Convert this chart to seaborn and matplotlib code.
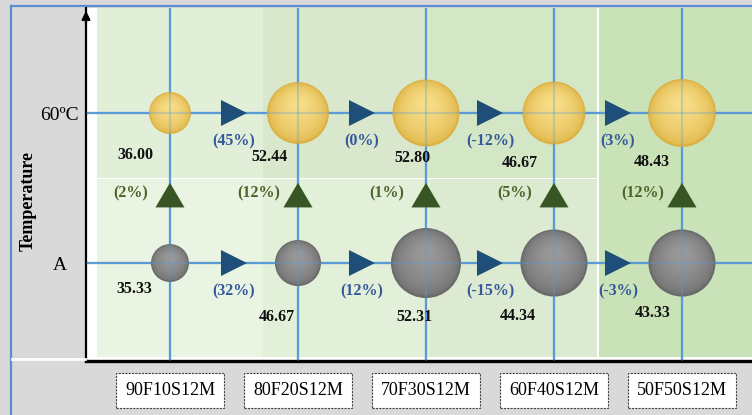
import numpy as np
import pandas as pd
import matplotlib
matplotlib.use("Agg")
import matplotlib.pyplot as plt
from matplotlib.lines import Line2D
from matplotlib.patches import Rectangle
from matplotlib.colors import to_rgb
import seaborn as sns

# ---------------- data ----------------
mixes = ["90F10S12M", "80F20S12M", "70F30S12M", "60F40S12M", "50F50S12M"]
temps = ["A", "60ºC"]
values_a = [35.33, 46.67, 52.31, 44.34, 43.33]
values_60 = [36.00, 52.44, 52.80, 46.67, 48.43]
bubble_mag_a = [14.4, 21.2, 49.0, 44.9, 44.9]
bubble_mag_60 = [17.6, 38.4, 44.9, 39.7, 46.2]
step_pct_a = [32, 12, -15, -3]
step_pct_60 = [45, 0, -12, 3]
temp_pct = [2, 12, 1, 5, 12]

# ---------------- layout (pixels) ----------------
val_off_a = [(-36, 26), (-21, 54), (-12, 54), (-36, 53), (-29, 50)]
val_off_60 = [(-35, 42), (-29, 44), (-14, 45), (-34, 50), (-30, 49)]

plt.rcParams["font.family"] = ["Liberation Serif", "DejaVu Serif"]

W, H = 752, 415
fig = plt.figure(figsize=(W / 100, H / 100), dpi=100)
fig.patch.set_facecolor("#d9d9d9")
ax = fig.add_axes([86 / W, (H - 361) / H, 666 / W, 353 / H])
ax.set_facecolor("white")
ax.set_xlim(-0.656, 4.547)
ax.set_ylim(-0.653, 1.70)

# background bands (axes fraction)
bands = [
    (0.0165, 0.266, "#e1eed8", "#eaf4e3"),
    (0.266, 0.5165, "#d9e8cd", "#e2efd9"),
    (0.5165, 0.767, "#d3e6c6", "#dbead0"),
]
ysplit = 0.515
for x0, x1, ctop, cbot in bands:
    ax.add_patch(Rectangle((x0, ysplit + 0.004), x1 - x0, 1 - ysplit, transform=ax.transAxes,
                           facecolor=ctop, edgecolor="none", zorder=0.1))
    ax.add_patch(Rectangle((x0, 0.011), x1 - x0, ysplit - 0.011, transform=ax.transAxes,
                           facecolor=cbot, edgecolor="none", zorder=0.1))
ax.add_patch(Rectangle((0.771, 0.011), 0.229, 0.989, transform=ax.transAxes,
                       facecolor="#c9e2b7", edgecolor="none", zorder=0.1))

grid_c = "#5b9bd5"
ax.set_xticks(range(len(mixes)))
ax.set_yticks(range(len(temps)))
ax.grid(True, color=grid_c, lw=1.6)
ax.set_axisbelow(True)

# ---------------- bubbles ----------------
df = pd.DataFrame({
    "mix": mixes * 2,
    "temp": [temps[0]] * len(mixes) + [temps[1]] * len(mixes),
    "value": values_a + values_60,
    "mag": bubble_mag_a + bubble_mag_60,
})
df["xi"] = df["mix"].map({m: i for i, m in enumerate(mixes)})
df["yi"] = df["temp"].map({t: i for i, t in enumerate(temps)})

MAG_MAX = 50.0
S_MAX = MAG_MAX * 100 * 0.72 ** 2
palette = {temps[0]: "#6a6a6a", temps[1]: "#ddb244"}
sns.scatterplot(data=df, x="xi", y="yi", hue="temp", palette=palette,
                size="mag", sizes=(0, S_MAX), size_norm=(0, MAG_MAX),
                legend=False, edgecolor="none", linewidth=0, zorder=3, ax=ax)

fig.canvas.draw()
px_per_y = ax.transData.transform((0, 1))[1] - ax.transData.transform((0, 0))[1]

edge_g, mid_g = np.array(to_rgb("#6a6a6a")), np.array(to_rgb("#979797"))
edge_y, mid_y = np.array(to_rgb("#ddb244")), np.array(to_rgb("#f6dc84"))
s_base = df["mag"].to_numpy() / MAG_MAX * S_MAX
r_px = np.sqrt(s_base) / 0.72 / 2
N = 14
for n in range(1, N + 1):
    t = n / N
    k = 1 - 0.78 * t
    up = 0.28 * t
    f = t ** 0.5
    cg = edge_g + (mid_g - edge_g) * f
    cy = edge_y + (mid_y - edge_y) * f
    cols = [cg if tt == temps[0] else cy for tt in df["temp"]]
    ax.scatter(df["xi"], df["yi"] + up * r_px / px_per_y, s=s_base * k ** 2,
               c=cols, edgecolors="none", zorder=3.2)

# faint gridlines seen through bubbles
for i in range(len(mixes)):
    ax.axvline(i, color=grid_c, lw=1.6, alpha=0.3, zorder=3.9)
for j in range(len(temps)):
    ax.axhline(j, color=grid_c, lw=1.6, alpha=0.3, zorder=3.9)

# ---------------- arrows (triangles) ----------------
tri_h = pd.DataFrame({
    "x": [i + 0.5 for i in range(len(mixes) - 1)] * 2,
    "y": [0] * (len(mixes) - 1) + [1] * (len(mixes) - 1),
})
sns.scatterplot(data=tri_h, x="x", y="y", marker=">", s=(26 * 0.72) ** 2,
                color="#1f4e79", edgecolor="none", linewidth=0, zorder=5, ax=ax, legend=False)

tri_y = 0.45
tri_v = pd.DataFrame({"x": list(range(len(mixes))), "y": [tri_y] * len(mixes)})
up_marker = [(-1, -0.82), (1, -0.82), (0, 0.88), (-1, -0.82)]
sns.scatterplot(data=tri_v, x="x", y="y", marker=up_marker, s=(29 * 0.72) ** 2,
                color="#375623", edgecolor="none", linewidth=0, zorder=5, ax=ax, legend=False)

# ---------------- labels ----------------
PT = 0.72
val_kw = dict(fontsize=11.5, fontweight="bold", color="#111111", ha="center", va="center",
              textcoords="offset points", zorder=6)
for i in range(len(mixes)):
    dx, dy = val_off_a[i]
    ax.annotate(f"{values_a[i]:.2f}", (i, 0), xytext=(dx * PT, -dy * PT), **val_kw)
    dx, dy = val_off_60[i]
    ax.annotate(f"{values_60[i]:.2f}", (i, 1), xytext=(dx * PT, -dy * PT), **val_kw)

pct_kw = dict(fontsize=11.5, fontweight="bold", ha="center", va="center",
              textcoords="offset points", zorder=6)
for i in range(len(mixes) - 1):
    ax.annotate(f"({step_pct_a[i]}%)", (i + 0.5, 0), xytext=(0, -28 * PT), color="#34589a", **pct_kw)
    ax.annotate(f"({step_pct_60[i]}%)", (i + 0.5, 1), xytext=(0, -28 * PT), color="#34589a", **pct_kw)
for i in range(len(mixes)):
    ax.annotate(f"({temp_pct[i]}%)", (i, tri_y), xytext=(-39 * PT, 2 * PT), color="#4f6228", **pct_kw)

# ---------------- axes styling ----------------
for s in ("top", "right"):
    ax.spines[s].set_visible(False)
ax.spines["left"].set_linewidth(1.6)
ax.spines["bottom"].set_linewidth(2.4)
ax.spines["left"].set_color("black")
ax.spines["bottom"].set_color("black")
ax.annotate("", xy=(0, 1.0), xytext=(0, 0.95), xycoords="axes fraction",
            arrowprops=dict(arrowstyle="-|>", color="black", lw=1.6, mutation_scale=12),
            annotation_clip=False, zorder=7)

ax.set_xticklabels(mixes, fontsize=13)
ax.set_yticklabels(temps, fontsize=14)
ax.tick_params(axis="x", length=0, pad=15)
ax.tick_params(axis="y", length=0, pad=19)
for t in ax.get_yticklabels():
    t.set_horizontalalignment("center")
for t in ax.get_xticklabels():
    t.set_bbox(dict(boxstyle="square,pad=0.5", facecolor="white", edgecolor="#444444",
                    linestyle=(0, (2, 1)), linewidth=0.8))
ax.set_xlabel("")
ax.set_ylabel("Temperature", fontsize=13, fontweight="bold")
ax.yaxis.set_label_coords(-0.087, 0.453)
ax.yaxis.label.set_va("center")

# ---------------- frame decorations ----------------
bc = "#5b8bd0"
fig.add_artist(Line2D([11 / W, 11 / W], [0, 1 - 6 / H], transform=fig.transFigure, color=bc, lw=1.6))
fig.add_artist(Line2D([11 / W, 1], [1 - 6 / H, 1 - 6 / H], transform=fig.transFigure, color=bc, lw=1.6))
fig.add_artist(Line2D([12 / W, 85 / W], [(H - 359) / H] * 2, transform=fig.transFigure, color="white", lw=2))

fig.savefig("out.png", dpi=100)
